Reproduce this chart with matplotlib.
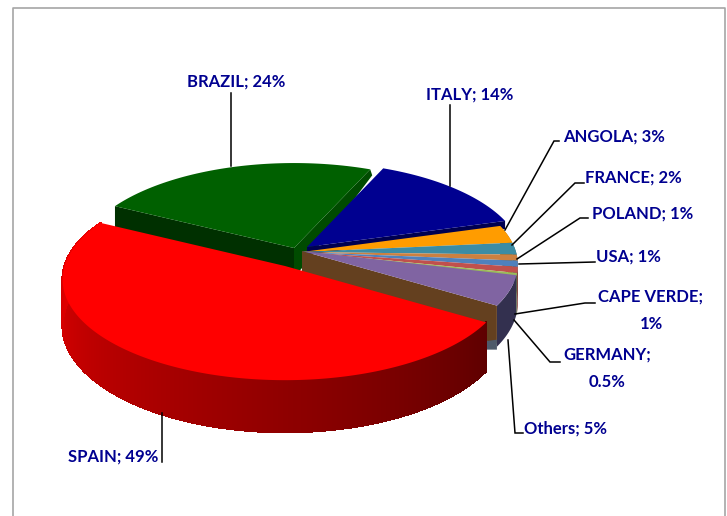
import numpy as np
import matplotlib
matplotlib.use("Agg")
import matplotlib.pyplot as plt
from matplotlib.collections import PolyCollection

names = ["SPAIN", "BRAZIL", "ITALY", "ANGOLA", "FRANCE", "POLAND", "USA", "CAPE VERDE", "GERMANY", "Others"]
values = [49, 24, 14, 3, 2, 1, 1, 1, 0.5, 5]
label_text = ["SPAIN; 49%", "BRAZIL; 24%", "ITALY; 14%", "ANGOLA; 3%", "FRANCE; 2%", "POLAND; 1%",
              "USA; 1%", "CAPE VERDE;\n1%", "GERMANY;\n0.5%", "Others; 5%"]
top_colors = ["#ff0000", "#006000", "#000090", "#ff9c00", "#3c8ca4", "#cc8040", "#4f81bd", "#c0504d", "#9bbb59", "#8064a2"]
wall_colors = ["#900000", "#003000", "#000050", "#a06000", "#2a6070", "#805028", "#305070", "#803030", "#607a30", "#33304f"]
offsets = [(-20, 14), (-11, -4), (2, -5), (-3, 0), (-3, 0), (-3, 0), (-3, 0), (-3, 0), (-3, 0), (-3, -1)]
radius = [1.03, 1, 1, 1, 1, 1, 1, 1, 1, 1]
label_xy = [(113, 457), (236, 82), (470, 95), (614, 137), (633, 178), (643, 214), (628, 257), (651, 310), (607, 368), (566, 429)]
leaders = [
    [(162, 462), (162, 413)], [(231, 93), (231, 166)], [(450, 105), (450, 186)],
    [(559, 141), (554, 141), (505, 230)], [(584, 183), (575, 183), (512, 245)],
    [(588, 218), (580, 218), (517, 259)], [(595, 262), (519, 264)],
    [(595, 303), (585, 303), (515, 314)], [(560, 362), (550, 362), (514, 320)],
    [(523, 433), (515, 433), (508, 340)],
]

CX, CY, RX, RY, K, DEPTH = 305, 252, 214, 96, 0.13, 45
START = -32.0

fig = plt.figure(figsize=(7.27, 5.16), dpi=100)
ax = fig.add_axes([0, 0, 1, 1])
ax.set_xlim(0, 727)
ax.set_ylim(516, 0)
ax.axis("off")
ax.plot([13, 13, 725, 725], [516, 8, 8, 516], color="#a6a6a6", lw=1.2)


def project(theta, r=1.0, off=(0, 0), drop=0.0):
    u, v = r * np.cos(theta), r * np.sin(theta)
    s = 1 / (1 + K * v)
    return np.column_stack([CX + off[0] + RX * u * s,
                            CY + off[1] - RY * v * s + drop * s])


spans = np.array(values) / sum(values) * 2 * np.pi
ends = np.deg2rad(START) - np.cumsum(spans)   # clockwise from START
starts = ends + spans
# going clockwise each slice runs from starts[i] + spans to ends[i]: arc[-1] is its clockwise end
order = [1, 2, 3, 4, 5, 6, 7, 8, 9]

# Brazil's two radial walls
th = np.linspace(starts[1], ends[1], 60)
arc = project(th, off=offsets[1])
c = project(np.array([0.0]), r=0.0, off=offsets[1])[0]
ax.fill([c[0], arc[0, 0], arc[0, 0], c[0]], [c[1], arc[0, 1], arc[0, 1] + 30, c[1] + 30],
        color=wall_colors[1], lw=0)
ax.fill([c[0], arc[-1, 0], arc[-1, 0] + 2, c[0] + 8, c[0]],
        [c[1], arc[-1, 1], arc[-1, 1] + 6, c[1] + 20, c[1] + 30], color="#004b00", lw=0)

# wall of the last slice, seen behind Spain
last = 9
edge = project(np.array([ends[last]]), off=offsets[last])[0]
apex = project(np.array([0.0]), r=0.0, off=offsets[last])[0]

for i in order:
    th = np.linspace(starts[i], ends[i], 60)
    off = offsets[i]
    arc = project(th, off=off)
    c = project(np.array([0.0]), r=0.0, off=off)[0]
    if i == 2:
        ax.fill([c[0], arc[-1, 0], arc[-1, 0], c[0]], [c[1], arc[-1, 1], arc[-1, 1] + 8, c[1] + 8],
                color=wall_colors[i], lw=0)
    if i >= 3:
        low = project(th, off=off, drop=DEPTH * 0.85)
        ax.fill(np.r_[arc[:, 0], low[::-1, 0]], np.r_[arc[:, 1], low[::-1, 1]], color=wall_colors[i], lw=0)
    if i == last:
        ax.fill([apex[0], edge[0], edge[0], apex[0]],
                [apex[1], edge[1], edge[1] + 38, apex[1] + 38], color="#64401f", lw=0)
        ax.fill([edge[0] - 14, edge[0], edge[0], edge[0] - 14],
                [edge[1] + 36, edge[1] + 34, edge[1] + 44, edge[1] + 44], color="#4e5a6a", lw=0)
    ax.fill(np.r_[c[0], arc[:, 0]], np.r_[c[1], arc[:, 1]], color=top_colors[i], lw=0)

# Spain: gradient rim, then top
th = np.linspace(starts[0], ends[0], 300)
arc = project(th, r=radius[0], off=offsets[0])
low = project(th, r=radius[0], off=offsets[0], drop=DEPTH)
quads = [np.array([arc[j], arc[j + 1], low[j + 1], low[j]]) for j in range(len(th) - 1)]
t = np.linspace(0, 1, len(quads))
shade = np.interp(t, [0, 1], [0.37, 0.95])
rim = [(s, 0, 0) for s in shade]
ax.add_collection(PolyCollection(quads, facecolors=rim, edgecolors=rim, linewidths=1.0, antialiaseds=False))
c = project(np.array([0.0]), r=0.0, off=offsets[0])[0]
ax.fill(np.r_[c[0], arc[:, 0]], np.r_[c[1], arc[:, 1]], color=top_colors[0], lw=0)

for pts in leaders:
    p = np.array(pts)
    ax.plot(p[:, 0], p[:, 1], color="black", lw=1.1, solid_joinstyle="miter")

for txt, (x, y) in zip(label_text, label_xy):
    ax.text(x, y, txt, color="#000090", fontsize=12, fontweight="bold", family=["Lato", "DejaVu Sans"],
            ha="center", va="center", linespacing=1.85)

fig.savefig("out.png", dpi=100)
